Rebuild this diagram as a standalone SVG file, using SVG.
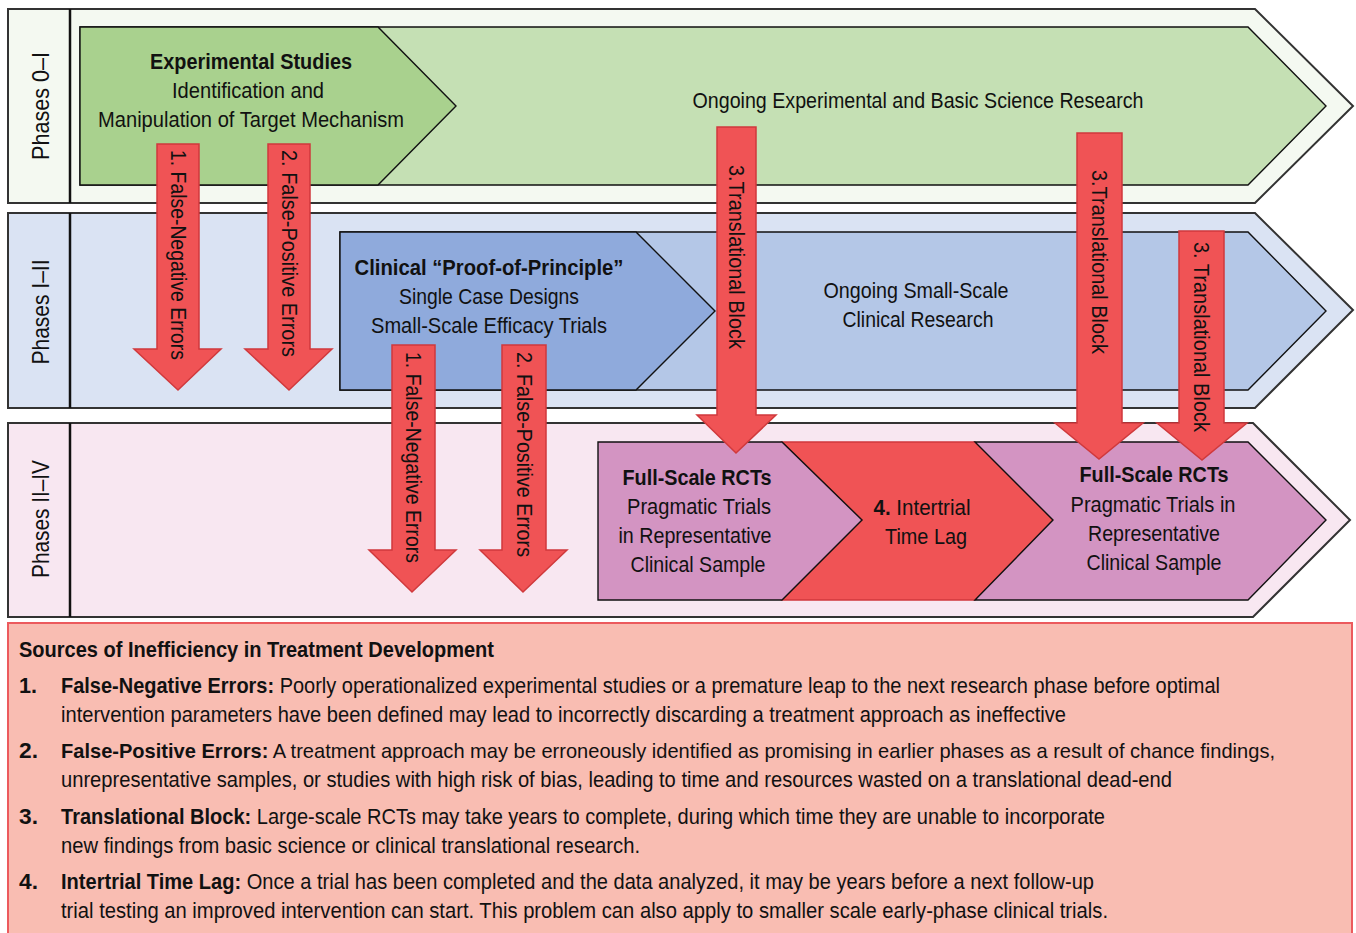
<svg xmlns="http://www.w3.org/2000/svg" width="1356" height="933" viewBox="0 0 1356 933">
  <style>
    text { font-family: "Liberation Sans Narrow", "Liberation Sans", Arial, sans-serif; fill: #111; }
    .t { font-size: 22px; text-anchor: middle; }
    .b { font-weight: bold; }
    .band { stroke: #333; stroke-width: 2; }
    .sep { stroke: #111; stroke-width: 2.5; }
    .inner { stroke: #111; stroke-width: 1.4; }
    .arrow { fill: #f05355; stroke: #d0393c; stroke-width: 1.5; }
    .lab { font-size: 24px; text-anchor: middle; dominant-baseline: central; }
    .at { font-size: 22px; dominant-baseline: central; }
    .legend { font-size: 22px; }
    .legend.sm { font-size: 21px; }
  </style>

  <rect width="1356" height="933" fill="#ffffff"/>

  <!-- Phases 0–I band -->
  <g id="band-phase0">
    <polygon class="band" fill="#f4f9f1" points="8,9 1255,9 1353,106 1255,203 8,203"/>
    <line class="sep" x1="70" y1="9" x2="70" y2="203"/>
    <text class="lab" transform="translate(40,106) rotate(-90)" textLength="108" lengthAdjust="spacingAndGlyphs">Phases 0–I</text>
  </g>
  <g id="ongoing-basic">
    <polygon class="inner" fill="#c5e0b4" points="80,27 1248,27 1326,106 1248,185 80,185"/>
    <text class="t" x="918" y="108" textLength="451" lengthAdjust="spacingAndGlyphs">Ongoing Experimental and Basic Science Research</text>
  </g>
  <g id="experimental-studies">
    <polygon class="inner" fill="#a9d18e" points="80,27 378,27 456,106 378,185 80,185"/>
    <text class="t b" x="251" y="69" textLength="202" lengthAdjust="spacingAndGlyphs">Experimental Studies</text>
    <text class="t" x="248" y="98" textLength="152" lengthAdjust="spacingAndGlyphs">Identification and</text>
    <text class="t" x="251" y="127" textLength="306" lengthAdjust="spacingAndGlyphs">Manipulation of Target Mechanism</text>
  </g>

  <!-- Phases I–II band -->
  <g id="band-phase1">
    <polygon class="band" fill="#dae3f3" points="8,213 1255,213 1353,310 1255,408 8,408"/>
    <line class="sep" x1="70" y1="213" x2="70" y2="408"/>
    <text class="lab" transform="translate(40,312) rotate(-90)" textLength="105" lengthAdjust="spacingAndGlyphs">Phases I–II</text>
  </g>
  <g id="ongoing-small-scale">
    <polygon class="inner" fill="#b4c7e7" points="340,232 1248,232 1326,311 1248,390 340,390"/>
    <text class="t" x="916" y="298" textLength="185" lengthAdjust="spacingAndGlyphs">Ongoing Small-Scale</text>
    <text class="t" x="918" y="327" textLength="151" lengthAdjust="spacingAndGlyphs">Clinical Research</text>
  </g>
  <g id="proof-of-principle">
    <polygon class="inner" fill="#8faadc" points="340,232 636,232 715,311 636,390 340,390"/>
    <text class="t b" x="489" y="275" textLength="269" lengthAdjust="spacingAndGlyphs">Clinical “Proof-of-Principle”</text>
    <text class="t" x="489" y="304" textLength="180" lengthAdjust="spacingAndGlyphs">Single Case Designs</text>
    <text class="t" x="489" y="333" textLength="236" lengthAdjust="spacingAndGlyphs">Small-Scale Efficacy Trials</text>
  </g>

  <!-- Phases II–IV band -->
  <g id="band-phase2">
    <polygon class="band" fill="#f8e7f1" points="8,423 1253,423 1350,520 1253,617 8,617"/>
    <line class="sep" x1="70" y1="423" x2="70" y2="617"/>
    <text class="lab" transform="translate(40,519) rotate(-90)" textLength="118" lengthAdjust="spacingAndGlyphs">Phases II–IV</text>
  </g>
  <g id="intertrial-lag">
    <polygon fill="#f05355" stroke="#d0393c" stroke-width="1.4" points="782,442 975,442 1053,520 975,600 782,600 862,520"/>
    <text class="t" x="922" y="515" textLength="97" lengthAdjust="spacingAndGlyphs"><tspan class="b">4.</tspan> Intertrial</text>
    <text class="t" x="926" y="544" textLength="82" lengthAdjust="spacingAndGlyphs">Time Lag</text>
  </g>
  <g id="rct-1">
    <polygon class="inner" fill="#d394c2" points="598,442 782,442 862,520 782,600 598,600"/>
    <text class="t b" x="697" y="485" textLength="149" lengthAdjust="spacingAndGlyphs">Full-Scale RCTs</text>
    <text class="t" x="699" y="514" textLength="144" lengthAdjust="spacingAndGlyphs">Pragmatic Trials</text>
    <text class="t" x="695" y="543" textLength="153" lengthAdjust="spacingAndGlyphs">in Representative</text>
    <text class="t" x="698" y="572" textLength="135" lengthAdjust="spacingAndGlyphs">Clinical Sample</text>
  </g>
  <g id="rct-2">
    <polygon class="inner" fill="#d394c2" points="975,442 1248,442 1326,520 1248,600 975,600 1053,520"/>
    <text class="t b" x="1154" y="482" textLength="149" lengthAdjust="spacingAndGlyphs">Full-Scale RCTs</text>
    <text class="t" x="1153" y="512" textLength="165" lengthAdjust="spacingAndGlyphs">Pragmatic Trials in</text>
    <text class="t" x="1154" y="541" textLength="132" lengthAdjust="spacingAndGlyphs">Representative</text>
    <text class="t" x="1154" y="570" textLength="135" lengthAdjust="spacingAndGlyphs">Clinical Sample</text>
  </g>

  <!-- Error / block arrows -->
  <g id="connectors">
    <g id="fn-1">
      <polygon class="arrow" points="157,144 199,144 199,349 221,349 178,390 134,349 157,349"/>
      <text class="at" transform="translate(178,150) rotate(90)" textLength="210" lengthAdjust="spacingAndGlyphs">1. False-Negative Errors</text>
    </g>
    <g id="fp-1">
      <polygon class="arrow" points="268,144 310,144 310,349 332,349 289,390 245,349 268,349"/>
      <text class="at" transform="translate(289,150) rotate(90)" textLength="207" lengthAdjust="spacingAndGlyphs">2. False-Positive Errors</text>
    </g>
    <g id="fn-2">
      <polygon class="arrow" points="392,345 435,345 435,550 456,550 412,592 369,550 392,550"/>
      <text class="at" transform="translate(413,352) rotate(90)" textLength="211" lengthAdjust="spacingAndGlyphs">1. False-Negative Errors</text>
    </g>
    <g id="fp-2">
      <polygon class="arrow" points="502,345 546,345 546,550 567,550 523,592 480,550 502,550"/>
      <text class="at" transform="translate(524,352) rotate(90)" textLength="205" lengthAdjust="spacingAndGlyphs">2. False-Positive Errors</text>
    </g>
    <g id="tb-1">
      <polygon class="arrow" points="717,127 756,127 756,415 776,415 736,453 697,415 717,415"/>
      <text class="at" transform="translate(736,165) rotate(90)" textLength="184" lengthAdjust="spacingAndGlyphs">3.Translational Block</text>
    </g>
    <g id="tb-2">
      <polygon class="arrow" points="1077,133 1122,133 1122,423 1143,423 1099,459 1055,423 1077,423"/>
      <text class="at" transform="translate(1099,170) rotate(90)" textLength="184" lengthAdjust="spacingAndGlyphs">3.Translational Block</text>
    </g>
    <g id="tb-3">
      <polygon class="arrow" points="1179,231 1224,231 1224,423 1247,423 1202,460 1157,423 1179,423"/>
      <text class="at" transform="translate(1201,242) rotate(90)" textLength="190" lengthAdjust="spacingAndGlyphs">3. Translational Block</text>
    </g>
  </g>

  <!-- Legend -->
  <g id="legend">
    <rect x="8" y="623" width="1344" height="320" fill="#f9bdb2" stroke="#ec5a5d" stroke-width="2"/>
    <text class="legend b" x="19" y="657" textLength="475" lengthAdjust="spacingAndGlyphs">Sources of Inefficiency in Treatment Development</text>
    <text class="legend b" x="19" y="693" textLength="18" lengthAdjust="spacingAndGlyphs">1.</text>
    <text class="legend" x="61" y="693" textLength="1159" lengthAdjust="spacingAndGlyphs"><tspan class="b">False-Negative Errors:</tspan> Poorly operationalized experimental studies or a premature leap to the next research phase before optimal</text>
    <text class="legend" x="61" y="722" textLength="1005" lengthAdjust="spacingAndGlyphs">intervention parameters have been defined may lead to incorrectly discarding a treatment approach as ineffective</text>
    <text class="legend b" x="19" y="758" textLength="19" lengthAdjust="spacingAndGlyphs">2.</text>
    <text class="legend sm" x="61" y="758" textLength="1214" lengthAdjust="spacingAndGlyphs"><tspan class="b">False-Positive Errors:</tspan> A treatment approach may be erroneously identified as promising in earlier phases as a result of chance findings,</text>
    <text class="legend" x="61" y="787" textLength="1111" lengthAdjust="spacingAndGlyphs">unrepresentative samples, or studies with high risk of bias, leading to time and resources wasted on a translational dead-end</text>
    <text class="legend b" x="19" y="824" textLength="19" lengthAdjust="spacingAndGlyphs">3.</text>
    <text class="legend" x="61" y="824" textLength="1044" lengthAdjust="spacingAndGlyphs"><tspan class="b">Translational Block:</tspan> Large-scale RCTs may take years to complete, during which time they are unable to incorporate</text>
    <text class="legend" x="61" y="853" textLength="579" lengthAdjust="spacingAndGlyphs">new findings from basic science or clinical translational research.</text>
    <text class="legend b" x="19" y="889" textLength="19" lengthAdjust="spacingAndGlyphs">4.</text>
    <text class="legend" x="61" y="889" textLength="1033" lengthAdjust="spacingAndGlyphs"><tspan class="b">Intertrial Time Lag:</tspan> Once a trial has been completed and the data analyzed, it may be years before a next follow-up</text>
    <text class="legend" x="61" y="918" textLength="1047" lengthAdjust="spacingAndGlyphs">trial testing an improved intervention can start. This problem can also apply to smaller scale early-phase clinical trials.</text>
  </g>
</svg>
